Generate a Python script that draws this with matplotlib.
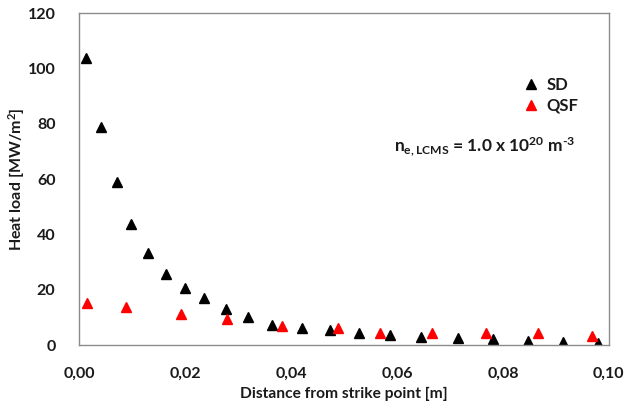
import matplotlib

matplotlib.use("Agg")

import matplotlib.pyplot as plt

INK = "#1a1a1a"
FRAME = "#8c8c8c"
RED = "#ff0000"

plt.rcParams["font.family"] = ["Lato", "DejaVu Sans"]
plt.rcParams["mathtext.fontset"] = "custom"
plt.rcParams["mathtext.rm"] = "Lato:bold"
plt.rcParams["mathtext.it"] = "Lato:bold"
plt.rcParams["mathtext.bf"] = "Lato:bold"

# SD (black) series
sd_x = [0.0013, 0.0041, 0.0071, 0.0099, 0.0131, 0.0164, 0.0200, 0.0236,
        0.0277, 0.0318, 0.0364, 0.0421, 0.0474, 0.0528, 0.0586, 0.0645,
        0.0716, 0.0781, 0.0847, 0.0913, 0.0980]
sd_y = [103.7, 78.9, 59.0, 43.6, 33.1, 25.7, 20.6, 17.1,
        13.1, 10.2, 7.1, 6.3, 5.4, 4.2, 3.6, 3.0,
        2.4, 2.0, 1.4, 1.2, 0.8]

# QSF (red) series
qsf_x = [0.0016, 0.0088, 0.0192, 0.0279, 0.0384, 0.0488, 0.0568, 0.0667,
         0.0768, 0.0866, 0.0969]
qsf_y = [15.3, 13.6, 11.2, 9.3, 6.9, 6.3, 4.5, 4.2, 4.2, 4.2, 3.4]

x_ticks = [0.00, 0.02, 0.04, 0.06, 0.08, 0.10]
y_ticks = [0, 20, 40, 60, 80, 100, 120]

figure = plt.figure(figsize=(6.29, 4.12), dpi=100, facecolor="white")
axis = figure.add_axes([0.1256, 0.1626, 0.8424, 0.8054])

axis.plot(sd_x, sd_y, linestyle="none", marker="^", markersize=7.5,
          color="black", label="SD")
axis.plot(qsf_x, qsf_y, linestyle="none", marker="^", markersize=7.5,
          color=RED, label="QSF")

axis.set_xlim(0, 0.10)
axis.set_ylim(0, 120)
axis.set_xticks(x_ticks)
axis.set_xticklabels([f"{t:.2f}".replace(".", ",") for t in x_ticks])
axis.set_yticks(y_ticks)
axis.tick_params(length=0, labelsize=11.5, labelcolor=INK)
axis.tick_params(axis="x", pad=16)
axis.tick_params(axis="y", pad=17)
for label in axis.get_xticklabels() + axis.get_yticklabels():
    label.set_fontweight("bold")
for spine in axis.spines.values():
    spine.set_color(FRAME)
    spine.set_linewidth(1.0)

axis.set_xlabel("Distance from strike point [m]", fontsize=11.2,
                fontweight="bold", color=INK, labelpad=4)
axis.set_ylabel("Heat load [MW/m$^{2}$]", fontsize=11.5,
                fontweight="bold", color=INK)
axis.yaxis.set_label_coords(-0.098, 0.5)

legend = axis.legend(loc="upper left", bbox_to_anchor=(0.822, 0.828),
                     frameon=False, handletextpad=0.3, handlelength=1.2,
                     labelspacing=0.3, borderaxespad=0,
                     prop={"family": "Lato", "weight": "bold", "size": 12})
for text in legend.get_texts():
    text.set_color(INK)

axis.text(0.766, 0.599,
          "n$_{e,LCMS}$ = 1.0 x 10$^{20}$ m$^{\u2010 3}$",
          transform=axis.transAxes, ha="center", va="center",
          fontsize=12.5, fontweight="bold", color=INK)

figure.savefig("out.png", dpi=100, facecolor="white")
